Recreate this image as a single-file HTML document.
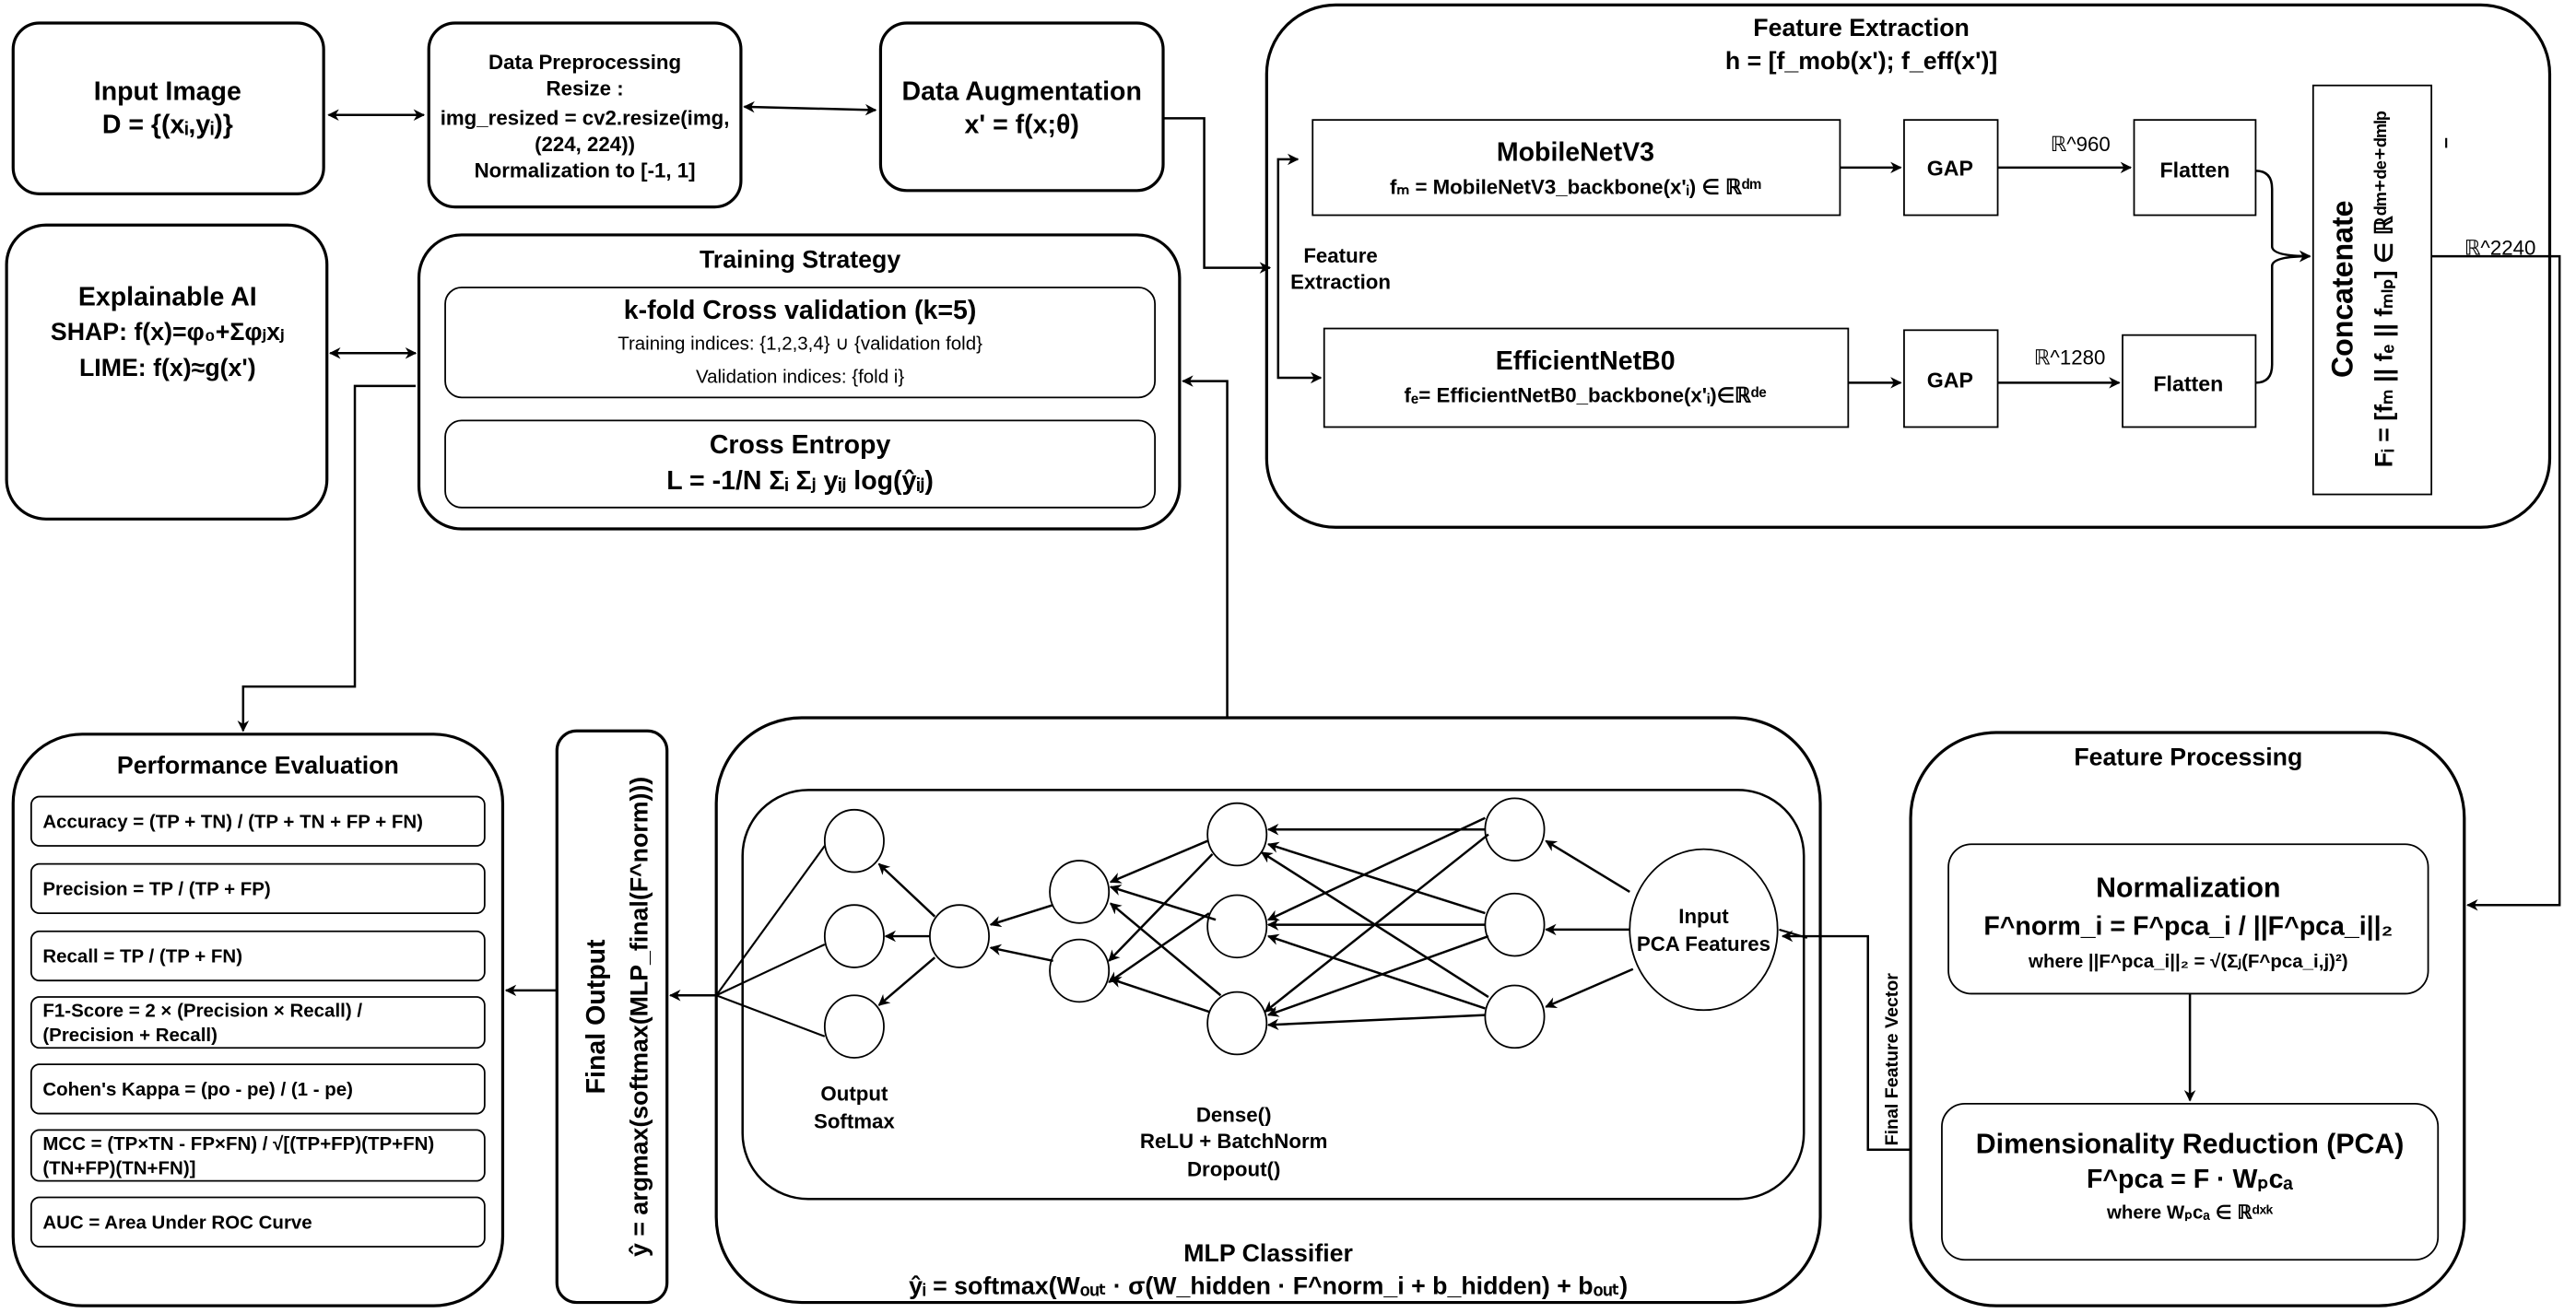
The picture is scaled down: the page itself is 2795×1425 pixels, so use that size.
<!DOCTYPE html>
<html><head><meta charset="utf-8"><style>
html,body{margin:0;padding:0;background:#fff;}
svg{display:block;}
text{font-family:"Liberation Sans",Arial,sans-serif;font-weight:bold;fill:#000;}
.n{font-weight:normal;}
</style></head><body>
<svg width="2795" height="1425" viewBox="0 0 1568 799.4" xmlns="http://www.w3.org/2000/svg">
<defs>
<marker id="a" viewBox="0 0 10 10" refX="9" refY="5" markerWidth="7" markerHeight="7" orient="auto-start-reverse" markerUnits="userSpaceOnUse"><path d="M0,0 L10,5 L0,10 L3,5 z" fill="#000"/></marker>
</defs>
<g fill="none" stroke="#000" stroke-width="1.8">
<rect x="8" y="14" width="189" height="104" rx="16"/>
<rect x="261" y="14" width="190" height="112" rx="16"/>
<rect x="536" y="14" width="172" height="102" rx="16"/>
<rect x="4" y="137" width="195" height="179" rx="24"/>
<rect x="255" y="143" width="463" height="179" rx="26"/>
<rect x="271" y="175" width="432" height="67" rx="10" stroke-width="1"/>
<rect x="271" y="256" width="432" height="53" rx="10" stroke-width="1"/>
<rect x="771" y="3" width="781" height="318" rx="42"/>
<rect x="799" y="73" width="321" height="58" stroke-width="1"/>
<rect x="806" y="200" width="319" height="60" stroke-width="1"/>
<rect x="1159" y="73" width="57" height="58" stroke-width="1"/>
<rect x="1159" y="201" width="57" height="59" stroke-width="1"/>
<rect x="1299" y="73" width="74" height="58" stroke-width="1"/>
<rect x="1292" y="204" width="81" height="56" stroke-width="1"/>
<rect x="1408" y="52" width="72" height="249" stroke-width="1"/>
<rect x="8" y="447" width="298" height="348" rx="42"/>
<rect x="19" y="485" width="276" height="30" rx="5" stroke-width="1"/>
<rect x="19" y="526" width="276" height="30" rx="5" stroke-width="1"/>
<rect x="19" y="567" width="276" height="30" rx="5" stroke-width="1"/>
<rect x="19" y="607" width="276" height="31" rx="5" stroke-width="1"/>
<rect x="19" y="648" width="276" height="30" rx="5" stroke-width="1"/>
<rect x="19" y="688" width="276" height="31" rx="5" stroke-width="1"/>
<rect x="19" y="729" width="276" height="30" rx="5" stroke-width="1"/>
<rect x="339" y="445" width="67" height="348" rx="12"/>
<rect x="436" y="437" width="672" height="356" rx="52"/>
<rect x="452" y="481" width="646" height="249" rx="40" stroke-width="1.4"/>
<rect x="1163" y="446" width="337" height="349" rx="52"/>
<rect x="1186" y="514" width="292" height="91" rx="14" stroke-width="1"/>
<rect x="1182" y="672" width="302" height="95" rx="14" stroke-width="1"/>
<g stroke-width="1">
<ellipse cx="520" cy="512" rx="18" ry="19"/><ellipse cx="520" cy="570" rx="18" ry="19"/><ellipse cx="520" cy="625" rx="18" ry="19"/>
<ellipse cx="584" cy="570" rx="18" ry="19"/>
<ellipse cx="657" cy="543" rx="18" ry="19"/><ellipse cx="657" cy="591" rx="18" ry="19"/>
<ellipse cx="753" cy="508" rx="18" ry="19"/><ellipse cx="753" cy="564" rx="18" ry="19"/><ellipse cx="753" cy="623" rx="18" ry="19"/>
<ellipse cx="922" cy="505" rx="18" ry="19"/><ellipse cx="922" cy="563" rx="18" ry="19"/><ellipse cx="922" cy="619" rx="18" ry="19"/>
<ellipse cx="1037" cy="566" rx="45" ry="49"/>
</g>
</g>
<g fill="none" stroke="#000" stroke-width="1.4" marker-end="url(#a)">
<line x1="200" y1="70" x2="258" y2="70" marker-start="url(#a)"/>
<line x1="453" y1="65" x2="533" y2="67" marker-start="url(#a)"/>
<polyline points="708,72 733,72 733,163 773,163"/>
<polyline points="790,97 778,97 778,230 804,230" marker-start="url(#a)"/>
<line x1="1120" y1="102" x2="1157" y2="102"/>
<line x1="1216" y1="102" x2="1297" y2="102"/>
<line x1="1125" y1="233" x2="1157" y2="233"/>
<line x1="1216" y1="233" x2="1290" y2="233"/>
<path d="M1373,104 Q1383,104 1383,115 L1383,150 Q1383,156 1406,156"/>
<path d="M1373,233 Q1383,233 1383,222 L1383,162 Q1383,156 1406,156"/>
<polyline points="1480,156 1558,156 1558,551 1502,551"/>
<line x1="201" y1="215" x2="253" y2="215" marker-start="url(#a)"/>
<polyline points="253,235 216,235 216,418 148,418 148,445"/>
<polyline points="747,437 747,232 720,232"/>
<line x1="339" y1="603" x2="308" y2="603"/>
<line x1="436" y1="606" x2="408" y2="606"/>
<polyline points="1163,700 1137,700 1137,570 1085,570"/>
<line x1="1333" y1="605" x2="1333" y2="670"/>
<line x1="992" y1="543" x2="941" y2="512"/>
<line x1="992" y1="566" x2="941" y2="566"/>
<line x1="994" y1="590" x2="941" y2="613"/>
<line x1="904" y1="505" x2="772" y2="505"/>
<line x1="904" y1="498" x2="772" y2="560"/>
<line x1="906" y1="508" x2="770" y2="616"/>
<line x1="904" y1="556" x2="772" y2="514"/>
<line x1="904" y1="563" x2="772" y2="563"/>
<line x1="906" y1="570" x2="772" y2="618"/>
<line x1="906" y1="607" x2="768" y2="519"/>
<line x1="904" y1="614" x2="772" y2="570"/>
<line x1="904" y1="618" x2="772" y2="624"/>
<line x1="735" y1="512" x2="676" y2="537"/>
<line x1="738" y1="520" x2="675" y2="585"/>
<line x1="736" y1="556" x2="675" y2="598"/>
<line x1="743" y1="606" x2="676" y2="550"/>
<line x1="736" y1="616" x2="676" y2="596"/>
<line x1="740" y1="560" x2="676" y2="540"/>
<line x1="641" y1="551" x2="603" y2="563"/>
<line x1="641" y1="585" x2="603" y2="577"/>
<line x1="569" y1="558" x2="535" y2="526"/>
<line x1="566" y1="570" x2="539" y2="570"/>
<line x1="569" y1="583" x2="535" y2="612"/>
</g>
<g fill="none" stroke="#000" stroke-width="1.2">
<line x1="436" y1="606" x2="502" y2="515"/>
<line x1="436" y1="606" x2="502" y2="575"/>
<line x1="436" y1="606" x2="502" y2="631"/>
<line x1="1083" y1="566" x2="1100" y2="571"/>
<line x1="1489" y1="84" x2="1489" y2="90"/>
</g>
<g text-anchor="middle">
<text x="102" y="61" font-size="16">Input Image</text>
<text x="102" y="81" font-size="16">D = {(xᵢ,yᵢ)}</text>
<text x="356" y="42" font-size="12.5">Data Preprocessing</text>
<text x="356" y="58" font-size="12.5">Resize :</text>
<text x="356" y="76" font-size="12.5">img_resized = cv2.resize(img,</text>
<text x="356" y="92" font-size="12.5">(224, 224))</text>
<text x="356" y="108" font-size="12.5">Normalization to [-1, 1]</text>
<text x="622" y="61" font-size="16">Data Augmentation</text>
<text x="622" y="81" font-size="16">x' = f(x;θ)</text>
<text x="102" y="186" font-size="16">Explainable AI</text>
<text x="102" y="207" font-size="15">SHAP: f(x)=φ₀+Σφⱼxⱼ</text>
<text x="102" y="229" font-size="15">LIME: f(x)≈g(x')</text>
<text x="487" y="163" font-size="15">Training Strategy</text>
<text x="487" y="194" font-size="16">k-fold Cross validation (k=5)</text>
<text x="487" y="213" font-size="11.5" class="n">Training indices: {1,2,3,4} ∪ {validation fold}</text>
<text x="487" y="233" font-size="11.5" class="n">Validation indices: {fold i}</text>
<text x="487" y="276" font-size="16">Cross Entropy</text>
<text x="487" y="298" font-size="16">L = -1/N Σᵢ Σⱼ yᵢⱼ log(ŷᵢⱼ)</text>
<text x="1133" y="22" font-size="15">Feature Extraction</text>
<text x="1133" y="42" font-size="15">h = [f_mob(x'); f_eff(x')]</text>
<text x="959" y="98" font-size="16">MobileNetV3</text>
<text x="959" y="118" font-size="12.5">fₘ = MobileNetV3_backbone(x'ᵢ) ∈ ℝᵈᵐ</text>
<text x="965" y="225" font-size="16">EfficientNetB0</text>
<text x="965" y="245" font-size="12.5">fₑ= EfficientNetB0_backbone(x'ᵢ)∈ℝᵈᵉ</text>
<text x="1187" y="107" font-size="13">GAP</text>
<text x="1187" y="236" font-size="13">GAP</text>
<text x="1336" y="108" font-size="13">Flatten</text>
<text x="1332" y="238" font-size="13">Flatten</text>
<text x="816" y="160" font-size="12.5">Feature</text>
<text x="816" y="176" font-size="12.5">Extraction</text>
<text x="520" y="670" font-size="12.5">Output</text>
<text x="520" y="687" font-size="12.5">Softmax</text>
<text x="751" y="683" font-size="12.5">Dense()</text>
<text x="751" y="699" font-size="12.5">ReLU + BatchNorm</text>
<text x="751" y="716" font-size="12.5">Dropout()</text>
<text x="1037" y="562" font-size="12.5">Input</text>
<text x="1037" y="579" font-size="12.5">PCA Features</text>
<text x="772" y="768" font-size="15">MLP Classifier</text>
<text x="772" y="788" font-size="15">ŷᵢ = softmax(Wₒᵤₜ · σ(W_hidden · F^norm_i + b_hidden) + bₒᵤₜ)</text>
<text x="157" y="471" font-size="15">Performance Evaluation</text>
<text x="1332" y="466" font-size="15">Feature Processing</text>
<text x="1332" y="546" font-size="17">Normalization</text>
<text x="1332" y="569" font-size="16">F^norm_i = F^pca_i / ||F^pca_i||₂</text>
<text x="1332" y="589" font-size="11.5">where ||F^pca_i||₂ = √(Σⱼ(F^pca_i,j)²)</text>
<text x="1333" y="702" font-size="17">Dimensionality Reduction (PCA)</text>
<text x="1333" y="723" font-size="16">F^pca = F · Wₚcₐ</text>
<text x="1333" y="742" font-size="11.5">where Wₚcₐ ∈ ℝᵈˣᵏ</text>
</g>
<g font-size="11.5">
<text x="26" y="504">Accuracy = (TP + TN) / (TP + TN + FP + FN)</text>
<text x="26" y="545">Precision = TP / (TP + FP)</text>
<text x="26" y="586">Recall = TP / (TP + FN)</text>
<text x="26" y="619">F1-Score = 2 × (Precision × Recall) /</text>
<text x="26" y="634">(Precision + Recall)</text>
<text x="26" y="667">Cohen's Kappa = (po - pe) / (1 - pe)</text>
<text x="26" y="700">MCC = (TP×TN - FP×FN) / √[(TP+FP)(TP+FN)</text>
<text x="26" y="715">(TN+FP)(TN+FN)]</text>
<text x="26" y="748">AUC = Area Under ROC Curve</text>
</g>
<g font-size="12.5">
<text x="1248" y="92" class="n">ℝ^960</text>
<text x="1238" y="222" class="n">ℝ^1280</text>
<text x="1500" y="155" class="n">ℝ^2240</text>
</g>
<text transform="translate(1432,176) rotate(-90)" text-anchor="middle" font-size="18">Concatenate</text>
<text transform="translate(1456,176) rotate(-90)" text-anchor="middle" font-size="15">Fᵢ = [fₘ || fₑ || fₘₗₚ] ∈ ℝᵈᵐ⁺ᵈᵉ⁺ᵈᵐˡᵖ</text>
<text transform="translate(368,619) rotate(-90)" text-anchor="middle" font-size="16">Final Output</text>
<text transform="translate(394,619) rotate(-90)" text-anchor="middle" font-size="15">ŷ = argmax(softmax(MLP_final(F^norm)))</text>
<text transform="translate(1155,645) rotate(-90)" text-anchor="middle" font-size="11">Final Feature Vector</text>
</svg>
</body></html>
